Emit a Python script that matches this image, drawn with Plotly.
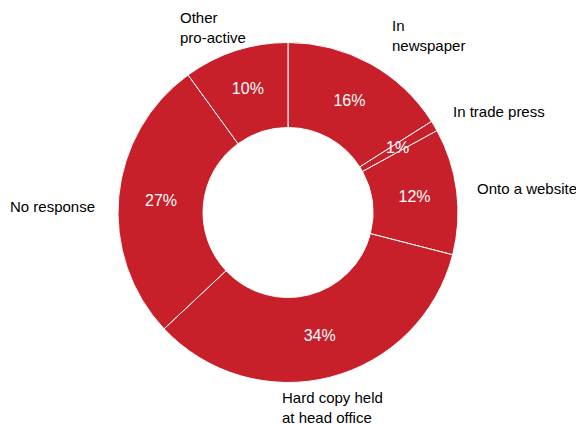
import math
import plotly.graph_objects as go

categories = ["In newspaper", "In trade press", "Onto a website",
              "Hard copy held at head office", "No response", "Other pro-active"]
values = [16, 1, 12, 34, 27, 10]
display_labels = ["In<br>newspaper", "In trade press", "Onto a website",
                  "Hard copy held<br>at head office", "No response", "Other<br>pro-active"]

W, H = 576, 424
RED = "#C8202A"
FONT = "Liberation Sans, Arial, sans-serif"
CX, CY, R_OUT, HOLE = 288, 212.5, 170, 0.5

pct_text = [f"{v}%" for v in values]
small = [v < 3 for v in values]

fig = go.Figure(go.Pie(
    labels=categories,
    values=values,
    text=["" if s else t for s, t in zip(small, pct_text)],
    textinfo="text",
    textposition="inside",
    insidetextorientation="horizontal",
    textfont=dict(color="white", size=16, family=FONT),
    hole=HOLE,
    sort=False,
    direction="clockwise",
    rotation=0,
    marker=dict(colors=[RED] * len(values), line=dict(color="white", width=1)),
    domain=dict(x=[(CX - R_OUT) / W, (CX + R_OUT) / W],
                y=[1 - (CY + R_OUT) / H, 1 - (CY - R_OUT) / H]),
    showlegend=False,
))

# percentage labels for slices too thin for Plotly's inside text: mid-angle, mid-ring
total = sum(values)
cum = 0
r_mid = R_OUT * (1 + HOLE) / 2
for v, t, s in zip(values, pct_text, small):
    if s:
        ang = 2 * math.pi * (cum + v / 2) / total
        px = CX + r_mid * math.sin(ang)
        py = CY - r_mid * math.cos(ang)
        fig.add_annotation(x=px / W, y=1 - py / H, xref="paper", yref="paper",
                           text=t, showarrow=False, xanchor="center", yanchor="middle",
                           font=dict(family=FONT, size=16, color="white"))
    cum += v

# outside label placements (pixel positions of text anchor: left edge, vertical middle)
label_pos = [(390, 36), (451, 112), (475, 189), (280, 407), (8, 206), (178, 28)]
for txt, (px, py) in zip(display_labels, label_pos):
    fig.add_annotation(
        x=px / W, y=1 - py / H, xref="paper", yref="paper",
        text=txt, showarrow=False, xanchor="left", yanchor="middle", align="left",
        font=dict(family=FONT, size=15, color="#000000"),
    )

fig.update_layout(
    width=W, height=H,
    margin=dict(l=0, r=0, t=0, b=0),
    paper_bgcolor="white",
    plot_bgcolor="white",
    uniformtext=dict(minsize=16, mode="show"),
)

fig.write_html("out.html")
